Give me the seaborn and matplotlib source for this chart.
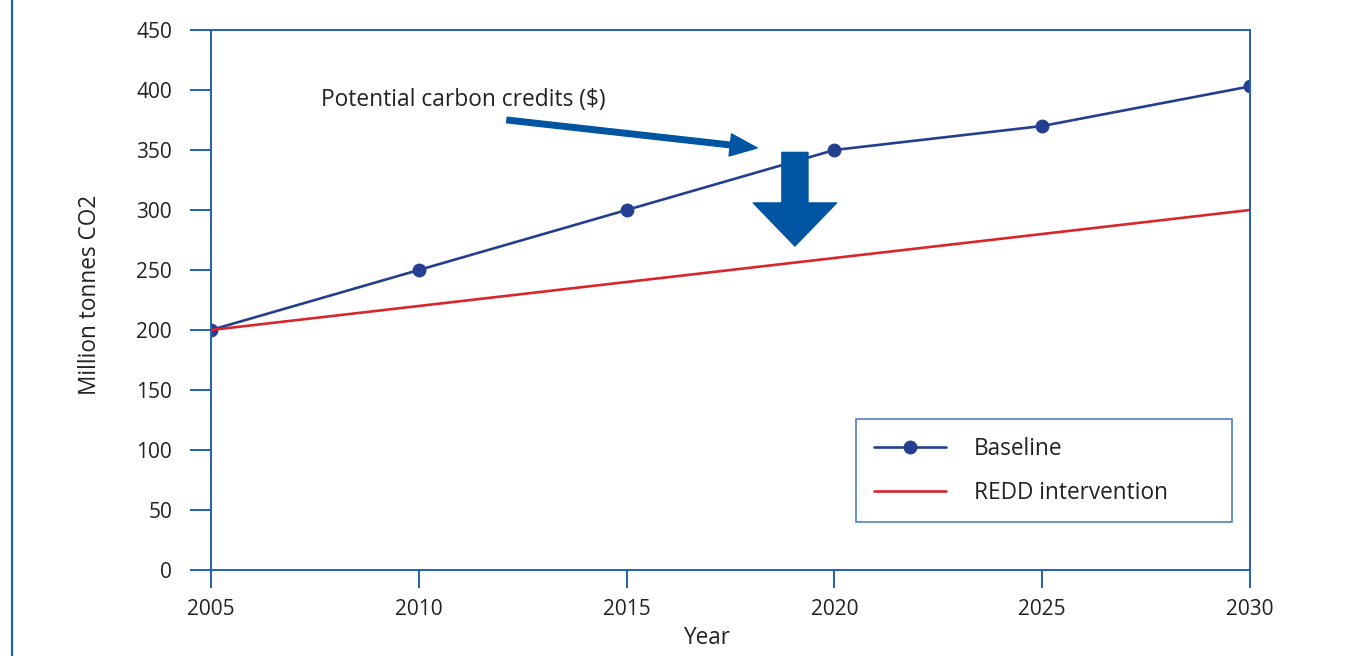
import matplotlib
matplotlib.use('Agg')
import matplotlib.pyplot as plt
import seaborn as sns
from matplotlib.lines import Line2D

# data
years = [2005, 2010, 2015, 2020, 2025, 2030]
baseline = [200, 250, 300, 350, 370, 403]
redd = [200, 220, 240, 260, 280, 300]

frame_blue = '#1f62ad'
navy = '#243f8f'
red = '#d8262c'
arrow_blue = '#0055a3'
txt = '#222222'

sns.set_style('white')
plt.rcParams['font.family'] = ['Open Sans', 'DejaVu Sans']

fig = plt.figure(figsize=(13.66, 6.56), dpi=100)
ax = fig.add_axes([211 / 1366, 1 - 570 / 656, 1039 / 1366, 540 / 656])

sns.lineplot(x=years, y=baseline, ax=ax, color=navy, lw=1.9, marker='o',
             markersize=10, markeredgewidth=0, label='Baseline')
sns.lineplot(x=years, y=redd, ax=ax, color=red, lw=1.9, label='REDD intervention')

ax.set_xlim(2005, 2030)
ax.set_ylim(0, 450)
ax.set_xticks(years)
ax.set_yticks(range(0, 451, 50))

for s in ax.spines.values():
    s.set_color(frame_blue)
    s.set_linewidth(1.4)
ax.tick_params(axis='y', direction='out', length=15, width=1.4, color=frame_blue,
               pad=13, labelsize=15, labelcolor=txt, left=True)
ax.tick_params(axis='x', direction='out', length=13, width=1.4, color=frame_blue,
               pad=8, labelsize=15, labelcolor=txt, bottom=True)

ax.set_ylabel('Million tonnes CO2', fontsize=16.3, color=txt)
ax.set_xlabel('Year', fontsize=16.3, color=txt)
ax.yaxis.set_label_coords(-0.105, 0.509)
ax.xaxis.set_label_coords(0.477, -0.103)

# annotation text and arrows
ax.text(2007.65, 392, 'Potential carbon credits ($)', fontsize=16.4,
        color=txt, va='center', ha='left')
ax.annotate('', xy=(2018.14, 351.7), xytext=(2012.12, 375),
            arrowprops=dict(arrowstyle='simple,head_length=0.97,head_width=0.8,tail_width=0.2',
                            mutation_scale=20, color=arrow_blue, shrinkA=0, shrinkB=0))
ax.annotate('', xy=(2019.05, 270), xytext=(2019.05, 348),
            arrowprops=dict(arrowstyle='simple,head_length=1.55,head_width=3.0,tail_width=0.94',
                            mutation_scale=20, color=arrow_blue, shrinkA=0, shrinkB=0))

handles = [Line2D([], [], color=navy, lw=1.9, marker='o', markersize=10, markeredgewidth=0),
           Line2D([], [], color=red, lw=1.9)]
leg = ax.legend(handles, ['Baseline', 'REDD intervention'],
                loc='upper left', bbox_to_anchor=(0.6208, 0.0907, 0.3619, 0.1889),
                mode='expand', borderaxespad=0, fontsize=16.3, frameon=True, fancybox=False,
                handlelength=3.2, handletextpad=1.24, borderpad=0.78, labelspacing=0.88)
leg.get_frame().set_edgecolor(frame_blue)
leg.get_frame().set_linewidth(1.2)
for t in leg.get_texts():
    t.set_color(txt)

# page frame line on the left
fig.add_artist(Line2D([12 / 1366, 12 / 1366], [0, 1], color=frame_blue, lw=1.6))

fig.savefig('out.png', dpi=100)
